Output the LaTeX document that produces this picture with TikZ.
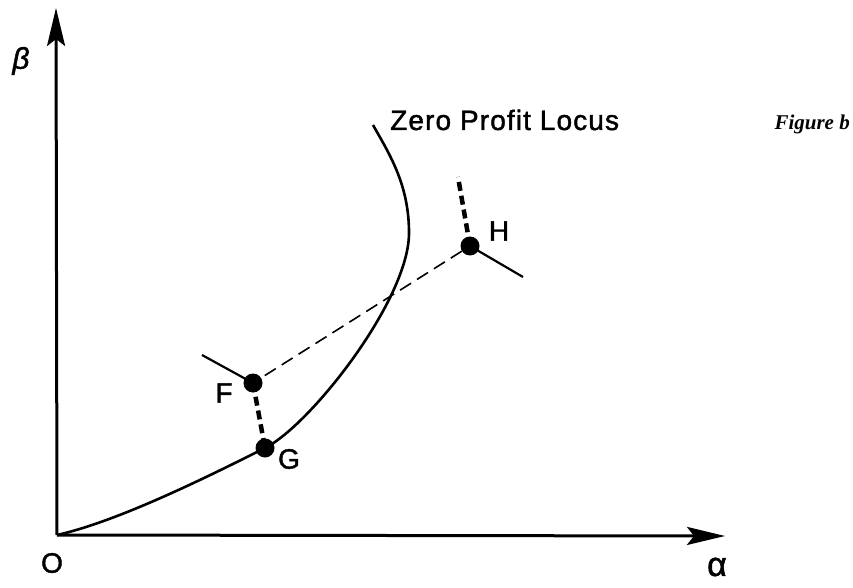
\documentclass[tikz,border=0pt]{standalone}
\usepackage{fontspec}
\setmainfont{Liberation Sans}
\newfontfamily\lblfont[FakeBold=1.5,LetterSpace=4]{Liberation Sans}
\newfontfamily\serifit{Liberation Serif}
\usetikzlibrary{arrows.meta}
\tikzset{
  axis/.style={line width=3pt,-{Stealth[length=38pt,width=18pt,inset=7pt]}},
  locus/.style={line width=2.6pt},
  pt/.style={circle,fill=black,inner sep=0pt,minimum size=19pt},
  lbl/.style={font=\lblfont\fontsize{28}{30}\selectfont},
  thickdash/.style={line width=4.5pt,dash pattern=on 9pt off 5pt},
  thindash/.style={line width=1.6pt,dash pattern=on 13pt off 7pt},
  arm/.style={line width=2.2pt}
}
\begin{document}
\begin{tikzpicture}[x=1pt,y=-1pt]
\useasboundingbox (0,0) rectangle (853,588);
\coordinate (O) at (57,535);
\coordinate (ytip) at (56,8);
\coordinate (xtip) at (725,536);
\draw[axis] (O) -- (ytip);
\draw[axis] (O) -- (xtip);
\node[lbl,font=\lblfont\fontsize{30}{30}\selectfont\itshape] (beta) at (21,61) {β};
\node[lbl] (olab) at (52,563) {O};
\node[lbl,font=\lblfont\fontsize{34}{30}\selectfont] (alpha) at (717,567) {α};
\coordinate (G0) at (265,448);
\coordinate (Vx) at (409,233);
\coordinate (Top) at (373,125);
\draw[locus] (O) .. controls (120,521) and (215,473) .. (G0)
  .. controls (310,425.5) and (409,300) .. (Vx)
  .. controls (409,185) and (390,155) .. (Top);
\node[lbl,anchor=base west,inner sep=0pt] (zpl) at (390,130) {Zero Profit Locus};
\node[anchor=base east,inner sep=0pt,font=\serifit\bfseries\itshape\fontsize{21}{22}\selectfont] (figb) at (850,130) {Figure b};
\node[pt] (H) at (470,246) {};
\node[pt] (F) at (253,383) {};
\node[pt] (G) at (G0) {};
\coordinate (Htop) at (458,177);
\coordinate (Harm) at (523,277);
\coordinate (Farm) at (202,355);
\draw[thindash] (H) -- (F);
\draw[thickdash] (H.center) -- (Htop);
\draw[arm] (H.center) -- (Harm);
\draw[arm] (F.center) -- (Farm);
\draw[thickdash] (F.center) -- (G.center);
\node[lbl] (Hl) at (499,231) {H};
\node[lbl] (Fl) at (224,393) {F};
\node[lbl] (Gl) at (289,459) {G};
\end{tikzpicture}
\end{document}
